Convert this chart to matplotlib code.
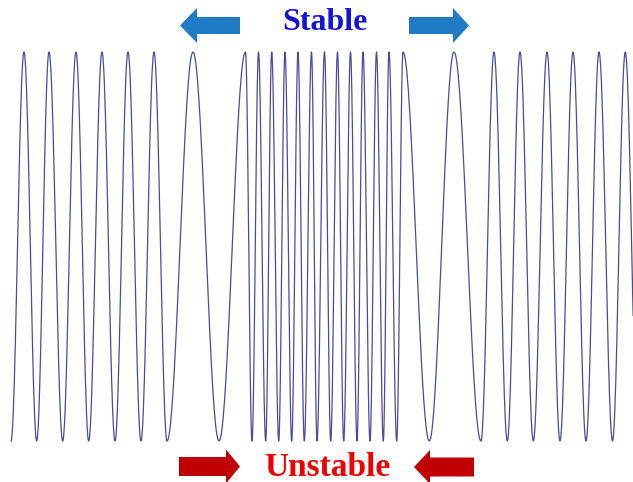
import numpy as np
import matplotlib.pyplot as plt
from matplotlib.patches import FancyArrow

# x positions (image pixels) of the crests and troughs of the wave
peak_x = [24, 49, 76, 102, 128, 154, 193,
          245.5, 258.5, 271.7, 285, 298, 311.5, 324.5, 337.5, 350.5, 363, 376.5, 389, 403,
          454, 494, 520, 547, 573, 599, 625.3]
trough_x = [11, 36.7, 62.7, 88.7, 115, 141, 167, 219,
            252, 265.7, 278.7, 291.7, 304.3, 317, 330.7, 343.7, 357, 370, 383.3, 396.7,
            429.3, 481, 507.3, 533.3, 560, 586, 612.5, 638]

top_label = "Stable"
bottom_label = "Unstable"

W, H = 633, 482
fig = plt.figure(figsize=(W / 100, H / 100), dpi=100)

# wave axes: amplitude +1 at y=52px, -1 at y=441px
ax = fig.add_axes([0, 0, 1, 1])
top_px, bot_px = 52, 441
mid = (top_px + bot_px) / 2
half = (bot_px - top_px) / 2
ax.set_xlim(0, W)
ax.set_ylim((mid - H) / half, mid / half)
ax.axis('off')

ext = sorted([(x, 1.0) for x in peak_x] + [(x, -1.0) for x in trough_x])
xs, ys = [], []
for (x0, v0), (x1, v1) in zip(ext[:-1], ext[1:]):
    t = np.linspace(0, 1, 40)
    xs.append(x0 + (x1 - x0) * t)
    ys.append(v0 + (v1 - v0) * (1 - np.cos(np.pi * t)) / 2)
ax.plot(np.concatenate(xs), np.concatenate(ys), color='#4a4a9e', lw=0.9)

# overlay in pixel coordinates for arrows and labels
ov = fig.add_axes([0, 0, 1, 1])
ov.set_xlim(0, W)
ov.set_ylim(H, 0)
ov.axis('off')
ov.patch.set_alpha(0)

blue = '#1f7cc4'
red = '#c00000'
ov.add_patch(FancyArrow(240, 25.5, -60, 0, width=17, head_width=35, head_length=17,
                        length_includes_head=True, color=blue, lw=0))
ov.add_patch(FancyArrow(409, 25.5, 60, 0, width=17, head_width=35, head_length=16,
                        length_includes_head=True, color=blue, lw=0))
ov.add_patch(FancyArrow(179, 466.5, 61, 0, width=19, head_width=34, head_length=14,
                        length_includes_head=True, color=red, lw=0))
ov.add_patch(FancyArrow(474, 467, -60, 0, width=19, head_width=34, head_length=16,
                        length_includes_head=True, color=red, lw=0))

ov.text(325, 22, top_label, ha='center', va='center', fontsize=23, fontweight='bold',
        family='Liberation Serif', color='#1414d4')
ov.text(327, 467, bottom_label, ha='center', va='center', fontsize=24, fontweight='bold',
        family='Liberation Serif', color='#ee0000')

fig.savefig('out.png', dpi=100)
